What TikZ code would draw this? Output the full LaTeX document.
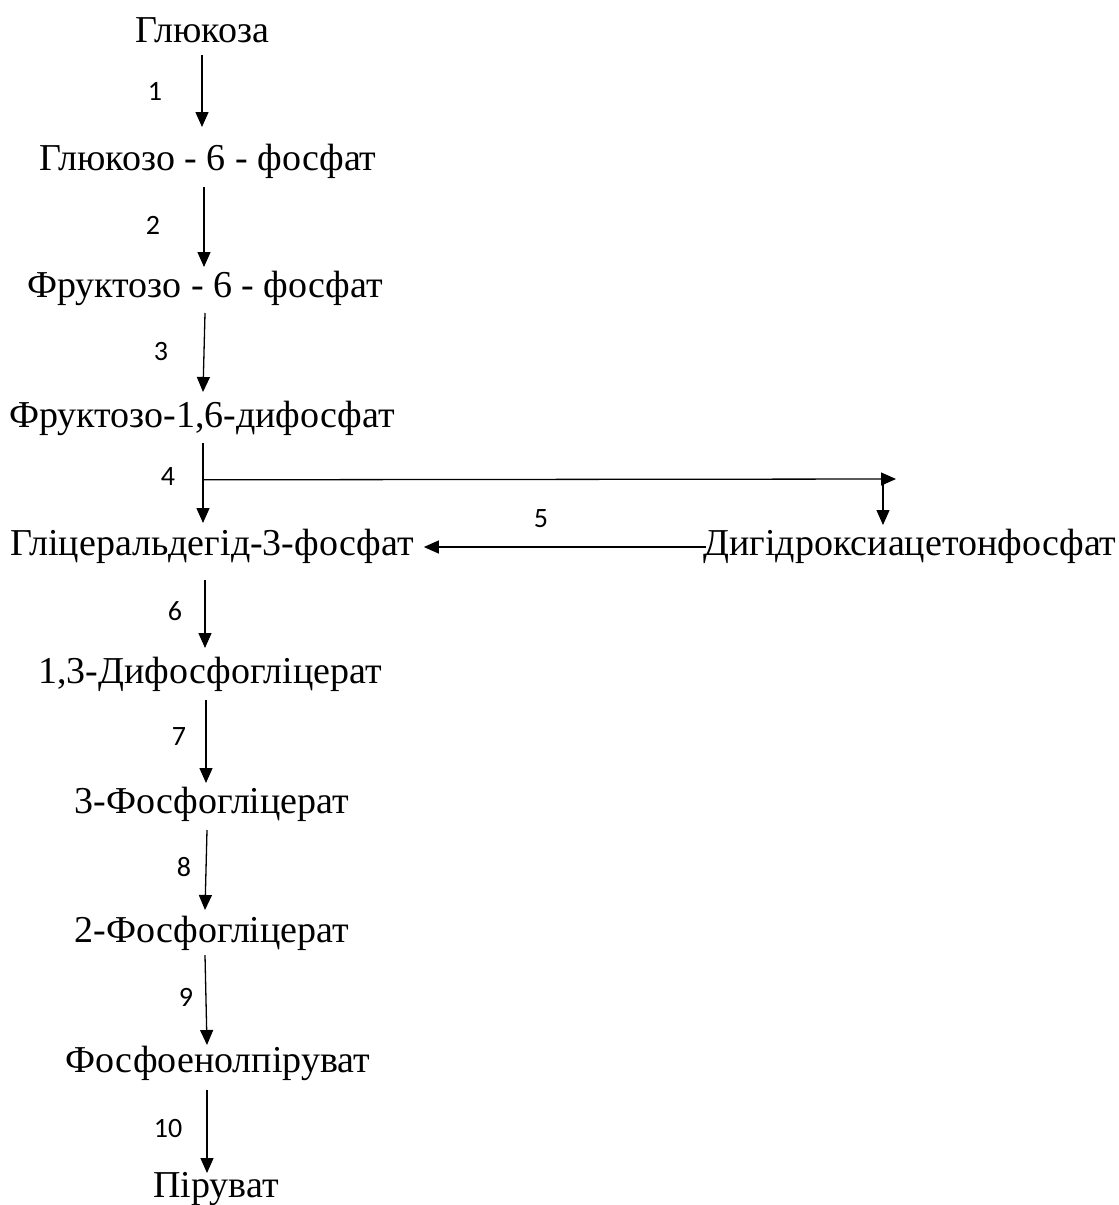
\documentclass[tikz,border=0pt]{standalone}
\usepackage{fontspec}
\setmainfont{Liberation Serif}
\newfontfamily\numfont{Carlito}
\usetikzlibrary{arrows.meta}
\tikzset{
  chem/.style={anchor=base,inner sep=0pt,font=\fontsize{38}{40}\selectfont},
  num/.style={inner sep=0pt,font=\numfont\fontsize{28}{30}\selectfont},
  arr/.style={line width=1.3pt,-{Triangle[length=15pt,width=13pt]}},
  ln/.style={line width=1.3pt}
}
\begin{document}
\begin{tikzpicture}[x=1pt,y=-1pt]
\useasboundingbox (0,0) rectangle (1119,1205);
\node[chem] (n1) at (202,42) {Глюкоза};
\node[chem] (n2) at (208,170) {Глюкозо - 6 - фосфат};
\node[chem] (n3) at (205,297) {Фруктозо - 6 - фосфат};
\node[chem] (n4) at (202,427) {Фруктозо-1,6-дифосфат};
\node[chem] (n5) at (212,555) {Гліцеральдегід-3-фосфат};
\node[chem] (dh) at (910,555) {Дигідроксиацетонфосфат};
\node[chem] (n6) at (210,683) {1,3-Дифосфогліцерат};
\node[chem] (n7) at (212,813) {3-Фосфогліцерат};
\node[chem] (n8) at (212,942) {2-Фосфогліцерат};
\node[chem] (n9) at (218,1072) {Фосфоенолпіруват};
\node[chem] (n10) at (216,1197) {Піруват};

\node[num] (l1) at (155,91) {1};
\node[num] (l2) at (153,225) {2};
\node[num] (l3) at (161,352) {3};
\node[num] (l4) at (168,477) {4};
\node[num] (l5) at (541,519) {5};
\node[num] (l6) at (175,611) {6};
\node[num] (l7) at (179,737) {7};
\node[num] (l8) at (184,867) {8};
\node[num] (l9) at (186,997) {9};
\node[num] (l10) at (168,1128) {10};

\draw[arr] ([yshift=-13pt]n1.base) -- ([xshift=-6pt,yshift=43pt]n2.base);
\draw[arr] ([xshift=-4pt,yshift=-17pt]n2.base) -- ([xshift=-1pt,yshift=30pt]n3.base);
\draw[arr] ([yshift=-16pt]n3.base) -- ([xshift=1pt,yshift=35pt]n4.base);
\draw[arr] ([xshift=1pt,yshift=-16pt]n4.base) -- coordinate[pos=0.46] (b4) ([xshift=-9pt,yshift=32pt]n5.base);
\coordinate (bend) at (896,479);
\draw[arr] (b4) -- (bend);
\draw[arr] ([xshift=-13pt]bend) -- ([xshift=-27pt,yshift=30pt]dh.base);
\draw[arr] ([xshift=3pt,yshift=8pt]dh.base west) -- ([xshift=10pt,yshift=8pt]n5.base east);
\draw[arr] ([xshift=-7pt,yshift=-25pt]n5.base) -- ([xshift=-5pt,yshift=35pt]n6.base);
\draw[arr] ([xshift=-4pt,yshift=-17pt]n6.base) -- ([xshift=-6pt,yshift=30pt]n7.base);
\draw[arr] ([xshift=-5pt,yshift=-17pt]n7.base) -- ([xshift=-7pt,yshift=32pt]n8.base);
\draw[arr] ([xshift=-7pt,yshift=-13pt]n8.base) -- ([xshift=-11pt,yshift=27pt]n9.base);
\draw[arr] ([xshift=-11pt,yshift=-18pt]n9.base) -- ([xshift=-9pt,yshift=24pt]n10.base);
\end{tikzpicture}
\end{document}
